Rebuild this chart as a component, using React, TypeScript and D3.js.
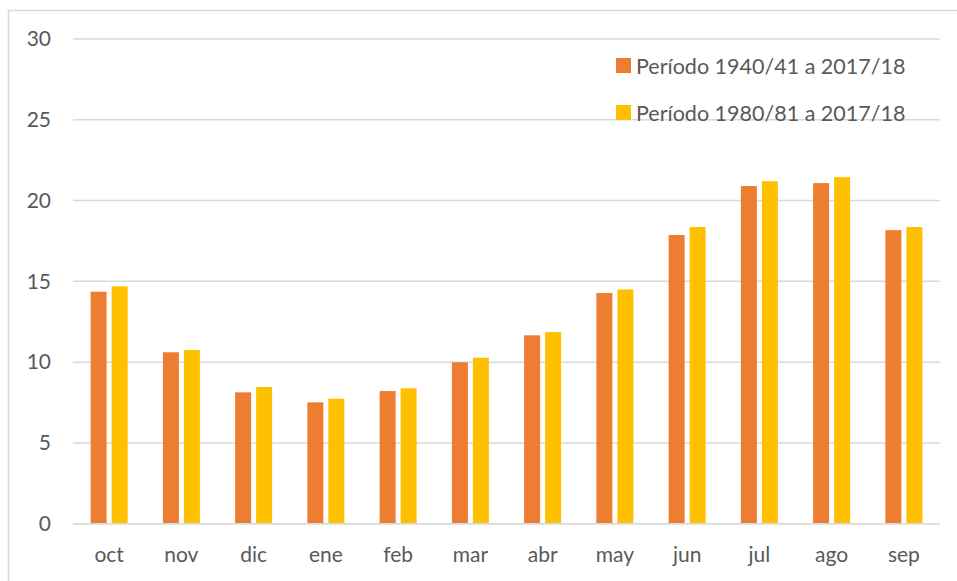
import React from "react";
import * as d3 from "d3";

const months = ["oct", "nov", "dic", "ene", "feb", "mar", "abr", "may", "jun", "jul", "ago", "sep"];
const series1Name = "Período 1940/41 a 2017/18";
const series2Name = "Período 1980/81 a 2017/18";
const series1 = [14.36, 10.61, 8.13, 7.51, 8.21, 9.99, 11.66, 14.28, 17.87, 20.9, 21.08, 18.17];
const series2 = [14.69, 10.75, 8.46, 7.74, 8.38, 10.27, 11.86, 14.5, 18.36, 21.2, 21.45, 18.36];
const yTicks = [0, 5, 10, 15, 20, 25, 30];

const W = 957;
const H = 581;
const plotLeft = 73;
const plotRight = 940;
const plotTop = 39;
const plotBottom = 523.7;
const colors = ["#ED7D31", "#FFC000"];
const textColor = "#595959";
const gridColor = "#d9d9d9";
const font = "Lato, 'Open Sans', sans-serif";

export default function App() {
  const x = d3.scaleBand<string>().domain(months).range([plotLeft, plotRight]).paddingInner(0).paddingOuter(0);
  const y = d3.scaleLinear().domain([0, 30]).range([plotBottom, plotTop]);
  const barW = 16;
  const gap = 5;
  const series = [series1, series2];
  const names = [series1Name, series2Name];

  return (
    <svg width={W} height={H} style={{ position: "absolute", left: 0, top: 0, background: "#fff" }}>
      <rect x={0} y={0} width={W} height={H} fill="#fff" />
      <rect x={8.5} y={10.5} width={1000} height={700} fill="none" stroke={gridColor} strokeWidth={1.5} />
      {yTicks.map((t) => (
        <g key={t}>
          <line x1={plotLeft} x2={plotRight} y1={y(t)} y2={y(t)} stroke={gridColor} strokeWidth={1.5} />
          <text x={51} y={y(t)} dy="0.35em" textAnchor="end" fill={textColor} fontFamily={font} fontSize={21}>
            {t}
          </text>
        </g>
      ))}
      {months.map((m, i) => {
        const cx = (x(m) as number) + x.bandwidth() / 2;
        return (
          <g key={m}>
            {series.map((s, j) => {
              const bx = j === 0 ? cx - gap / 2 - barW : cx + gap / 2;
              return (
                <rect key={j} x={bx} y={y(s[i])} width={barW} height={y(0) - y(s[i])} fill={colors[j]} />
              );
            })}
            <text x={cx} y={562} textAnchor="middle" fill={textColor} fontFamily={font} fontSize={21}>
              {m}
            </text>
          </g>
        );
      })}
      <line x1={plotLeft} x2={plotRight} y1={y(0)} y2={y(0)} stroke={gridColor} strokeWidth={1.5} />
      {names.map((n, j) => (
        <g key={n} transform={`translate(616, ${58 + j * 47})`}>
          <rect x={0} y={0} width={15} height={15} fill={colors[j]} />
          <text x={20} y={15.5} fill={textColor} fontFamily={font} fontSize={21.5}>
            {n}
          </text>
        </g>
      ))}
    </svg>
  );
}
